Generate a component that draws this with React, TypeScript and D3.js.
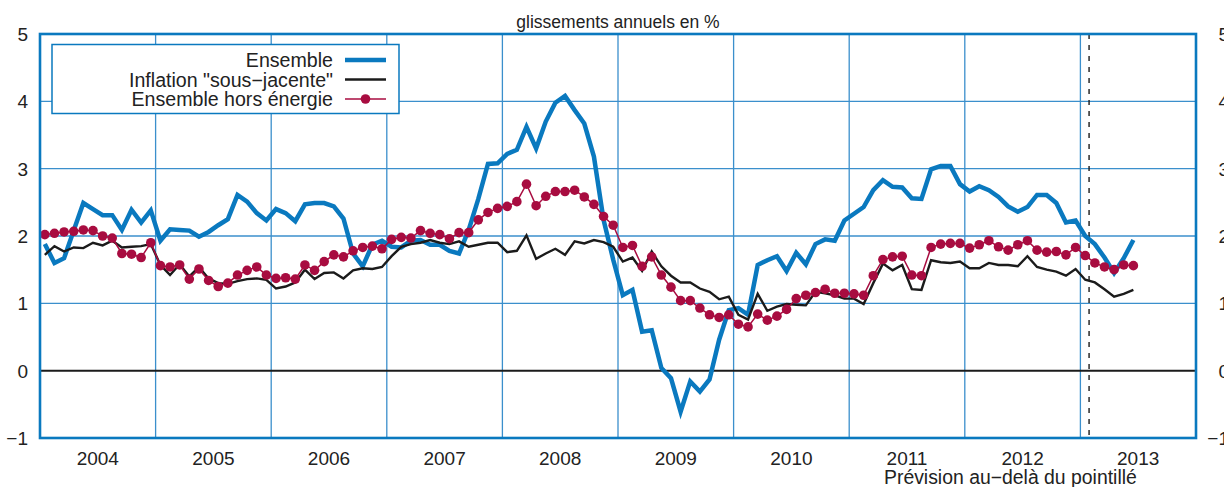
import React from 'react';
import * as d3 from 'd3';

// Monthly values, January 2004 to June 2013
const ensemble = [
  1.88, 1.60, 1.67, 2.08, 2.49, 2.40, 2.31, 2.31, 2.09, 2.39, 2.20, 2.38,
  1.93, 2.10, 2.09, 2.08, 1.99, 2.06, 2.16, 2.25, 2.61, 2.51, 2.34, 2.23,
  2.40, 2.34, 2.22, 2.47, 2.49, 2.49, 2.44, 2.26, 1.74, 1.55, 1.87, 1.93,
  1.84, 1.83, 1.93, 1.94, 1.87, 1.87, 1.78, 1.74, 2.09, 2.55, 3.07, 3.08,
  3.22, 3.28, 3.62, 3.30, 3.70, 3.98, 4.08, 3.87, 3.67, 3.18, 2.24, 1.65,
  1.12, 1.20, 0.58, 0.60, 0.04, -0.11, -0.61, -0.16, -0.31, -0.13, 0.46, 0.90,
  0.93, 0.83, 1.57, 1.64, 1.70, 1.48, 1.75, 1.58, 1.88, 1.95, 1.93, 2.23,
  2.33, 2.43, 2.68, 2.83, 2.73, 2.72, 2.56, 2.55, 2.99, 3.04, 3.04, 2.77,
  2.66, 2.74, 2.68, 2.58, 2.44, 2.36, 2.43, 2.61, 2.61, 2.49, 2.20, 2.23,
  2.00, 1.88, 1.68, 1.45, 1.67, 1.94,
];

const sousJacente = [
  1.72, 1.85, 1.77, 1.83, 1.82, 1.90, 1.86, 1.93, 1.83, 1.84, 1.85, 1.88,
  1.57, 1.42, 1.58, 1.40, 1.54, 1.37, 1.30, 1.29, 1.33, 1.36, 1.37, 1.35,
  1.22, 1.25, 1.31, 1.50, 1.36, 1.45, 1.46, 1.37, 1.49, 1.52, 1.51, 1.54,
  1.70, 1.84, 1.88, 1.90, 1.94, 1.90, 1.88, 1.92, 1.84, 1.87, 1.90, 1.90,
  1.76, 1.78, 2.01, 1.66, 1.74, 1.81, 1.72, 1.92, 1.89, 1.94, 1.91, 1.84,
  1.62, 1.68, 1.48, 1.77, 1.55, 1.41, 1.31, 1.31, 1.22, 1.17, 1.06, 1.10,
  0.83, 0.76, 1.14, 0.89, 0.95, 0.99, 0.98, 0.97, 1.17, 1.15, 1.12, 1.07,
  1.07, 0.99, 1.30, 1.59, 1.49, 1.57, 1.21, 1.20, 1.64, 1.61, 1.60, 1.62,
  1.52, 1.52, 1.60, 1.57, 1.57, 1.55, 1.70, 1.54, 1.50, 1.47, 1.41, 1.51,
  1.35, 1.31, 1.21, 1.10, 1.14, 1.20,
];

const horsEnergie = [
  2.02, 2.04, 2.06, 2.07, 2.09, 2.08, 2.00, 1.97, 1.74, 1.73, 1.68, 1.90,
  1.56, 1.54, 1.57, 1.36, 1.51, 1.34, 1.25, 1.30, 1.42, 1.49, 1.54, 1.42,
  1.37, 1.38, 1.36, 1.57, 1.49, 1.62, 1.72, 1.69, 1.78, 1.83, 1.85, 1.81,
  1.95, 1.98, 1.97, 2.08, 2.04, 2.02, 1.96, 2.05, 2.05, 2.24, 2.35, 2.41,
  2.44, 2.51, 2.77, 2.45, 2.59, 2.66, 2.66, 2.68, 2.58, 2.47, 2.29, 2.16,
  1.83, 1.86, 1.55, 1.69, 1.42, 1.24, 1.04, 1.04, 0.93, 0.83, 0.79, 0.83,
  0.69, 0.65, 0.84, 0.75, 0.81, 0.91, 1.07, 1.12, 1.16, 1.21, 1.15, 1.15,
  1.14, 1.12, 1.41, 1.65, 1.69, 1.70, 1.42, 1.41, 1.83, 1.88, 1.89, 1.89,
  1.82, 1.87, 1.93, 1.84, 1.79, 1.87, 1.93, 1.79, 1.76, 1.77, 1.72, 1.83,
  1.71, 1.60, 1.54, 1.50, 1.57, 1.56,
];

const yearLabels = ['2004', '2005', '2006', '2007', '2008', '2009', '2010', '2011', '2012', '2013'];
const yTicks = [-1, 0, 1, 2, 3, 4, 5];
const legendLabels = ['Ensemble', 'Inflation "sous\u2212jacente"', 'Ensemble hors \u00e9nergie'];
const forecastMonth = 108.9; // months since Jan 2004
const titleText = 'glissements annuels en %';
const noteText = 'Pr\u00e9vision au\u2212del\u00e0 du pointill\u00e9';

const W = 1224;
const H = 487;
const L = 40, R = 1196, T = 34, B = 438;

const BLUE = '#0a79bf';
const GRID = '#3b8fcc';
const RED = '#a80c40';
const BLACK = '#1b1b1b';
const FONT = 'Liberation Sans, Arial, Helvetica, sans-serif';

export default function App() {
  const x = d3.scaleLinear().domain([0, yearLabels.length * 12]).range([L, R]);
  const y = d3.scaleLinear().domain([-1, 5]).range([B, T]);

  const line = d3
    .line<number>()
    .x((_, i) => x(i + 0.5))
    .y((d) => y(d));

  const yearEdges = d3.range(1, yearLabels.length).map((k) => k * 12);

  return (
    <svg
      width={W}
      height={H}
      style={{ position: 'absolute', left: 0, top: 0, background: '#fff' }}
      fontFamily={FONT}
    >
      <rect x={0} y={0} width={W} height={H} fill="#fff" />
      {/* title */}
      <text x={(L + R) / 2} y={28} textAnchor="middle" fontSize={17.5} fill="#222">
        {titleText}
      </text>

      {/* horizontal grid */}
      {yTicks
        .filter((t) => t !== -1 && t !== 5 && t !== 0)
        .map((t) => (
          <line key={'h' + t} x1={L} x2={R} y1={y(t)} y2={y(t)} stroke={GRID} strokeWidth={1.3} />
        ))}
      {/* vertical year grid */}
      {yearEdges.map((m) => (
        <line key={'v' + m} x1={x(m)} x2={x(m)} y1={T} y2={B} stroke={GRID} strokeWidth={1.3} />
      ))}
      {/* zero line */}
      <line x1={L} x2={R} y1={y(0)} y2={y(0)} stroke={BLACK} strokeWidth={2} />

      {/* forecast dashed line */}
      <line
        x1={x(forecastMonth)}
        x2={x(forecastMonth)}
        y1={T}
        y2={B}
        stroke={BLACK}
        strokeWidth={1.4}
        strokeDasharray="5,6"
      />

      {/* series */}
      <path d={line(ensemble) || ''} fill="none" stroke={BLUE} strokeWidth={4.5} strokeLinejoin="miter" />
      <path d={line(sousJacente) || ''} fill="none" stroke={BLACK} strokeWidth={2.4} strokeLinejoin="miter" />
      <path d={line(horsEnergie) || ''} fill="none" stroke={RED} strokeWidth={1.5} />
      {horsEnergie.map((d, i) => (
        <circle key={'c' + i} cx={x(i + 0.5)} cy={y(d)} r={4.8} fill={RED} />
      ))}

      {/* frame */}
      <rect x={L} y={T} width={R - L} height={B - T} fill="none" stroke={BLUE} strokeWidth={2.6} />

      {/* y tick labels */}
      {yTicks.map((t) => (
        <text key={'yl' + t} x={28} y={y(t) + 7} textAnchor="end" fontSize={19} fill="#222">
          {t < 0 ? '\u2212' + Math.abs(t) : String(t)}
        </text>
      ))}
      {yTicks.map((t) => (
        <text key={'yr' + t} x={1229} y={y(t) + 7} textAnchor="end" fontSize={19} fill="#222">
          {t < 0 ? '\u2212' + Math.abs(t) : String(t)}
        </text>
      ))}

      {/* x year labels */}
      {yearLabels.map((lab, k) => (
        <text key={lab} x={x(k * 12 + 6)} y={465} textAnchor="middle" fontSize={19} fill="#222">
          {lab}
        </text>
      ))}
      <text x={884} y={484} textAnchor="start" fontSize={19.4} fill="#222">
        {noteText}
      </text>

      {/* legend */}
      <rect x={52} y={44.5} width={347} height={69} fill="#fff" stroke={BLUE} strokeWidth={1.5} />
      {legendLabels.map((lab, k) => {
        const cy = 60 + k * 19.5;
        return (
          <g key={lab}>
            <text x={333} y={cy + 7} textAnchor="end" fontSize={19.6} fill="#222">
              {lab}
            </text>
            {k === 0 && <line x1={345} x2={386} y1={cy} y2={cy} stroke={BLUE} strokeWidth={4.5} />}
            {k === 1 && <line x1={345} x2={386} y1={cy} y2={cy} stroke={BLACK} strokeWidth={2.4} />}
            {k === 2 && (
              <g>
                <line x1={345} x2={386} y1={cy} y2={cy} stroke={RED} strokeWidth={1.5} />
                <circle cx={365.5} cy={cy} r={4.8} fill={RED} />
              </g>
            )}
          </g>
        );
      })}
    </svg>
  );
}
